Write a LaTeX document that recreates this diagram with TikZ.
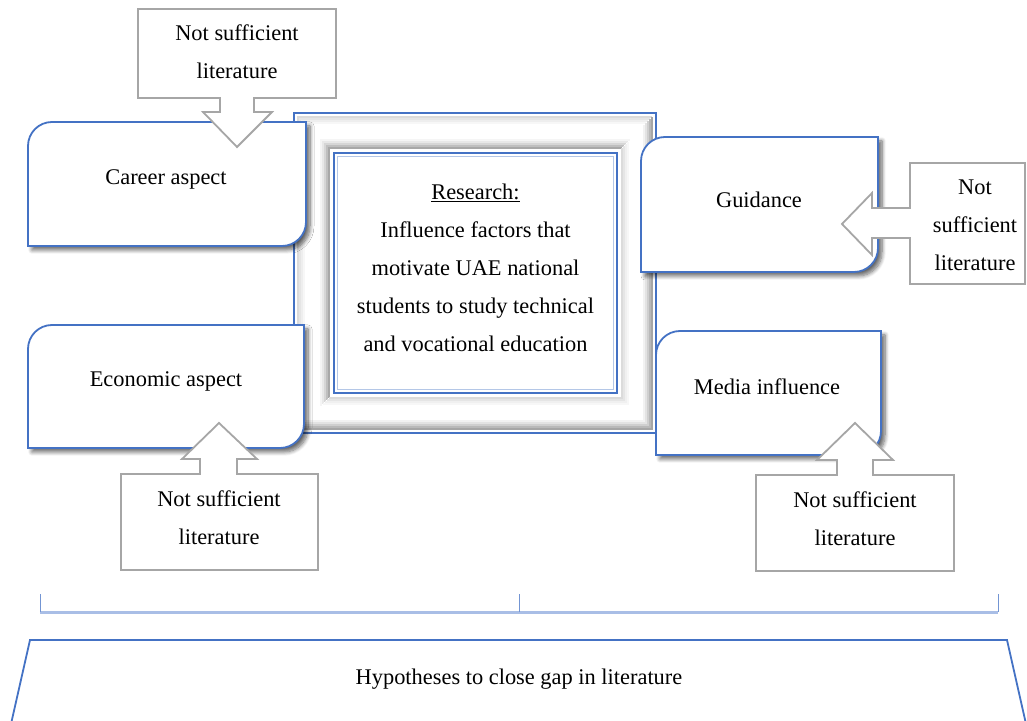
\documentclass[tikz,border=0pt]{standalone}
\usepackage{fontspec}
\setmainfont{Liberation Serif}
\usetikzlibrary{shadows,shadows.blur,calc}
\definecolor{obl}{HTML}{4472C4}
\definecolor{cgray}{HTML}{A6A6A6}
\definecolor{brk}{HTML}{A9BEE6}
\tikzset{
  bluebox/.style={draw=obl, line width=1.8pt, fill=white,
    blur shadow={shadow xshift=4pt, shadow yshift=-4pt, shadow blur radius=4pt, shadow blur steps=8, shadow opacity=60}},
  callout/.style={draw=cgray, line width=1.8pt, fill=white, line join=miter},
  txt/.style={font=\fontsize{22.4}{38}\selectfont, align=center, inner sep=0pt},
}
\begin{document}
\begin{tikzpicture}[x=1pt,y=1pt]
\useasboundingbox (0,0) rectangle (1027,720);

% ---- central frame ----
\draw[obl, line width=1.8pt, fill=white] (294,287) rectangle (656,607);
% outer raised bevel
\foreach \d/\c in {4/28,6/20,8/13,10/6}
  \draw[gray!\c, line width=2.2pt] (294+\d,287+\d) -- (294+\d,607-\d) -- (656-\d,607-\d);
\foreach \d/\c in {4/70,6/55,8/38,10/22,12/10}
  \draw[gray!\c, line width=2.2pt] (294+\d,287+\d) -- (656-\d,287+\d) -- (656-\d,607-\d);
% inner sunken bevel
\foreach \d/\c in {13/8,11/18,9/32,7/50,5/68}
  \draw[gray!\c, line width=2.2pt] (334-\d,327-\d) -- (334-\d,567+\d) -- (617+\d,567+\d);
\foreach \d/\c in {11/6,9/12,7/20,5/28}
  \draw[gray!\c, line width=2.2pt] (334-\d,327-\d) -- (617+\d,327-\d) -- (617+\d,567+\d);
\draw[obl, line width=1.8pt, fill=white] (334,327) rectangle (617,567);
\draw[obl!40, line width=0.8pt] (337.5,330.5) rectangle (613.5,563.5);
\node[txt] (research) at (475.5,452) {\underline{Research:}\\Influence factors that\\motivate UAE national\\students to study technical\\and vocational education};

% ---- blue boxes ----
\draw[bluebox] (28,474) -- (28,574) arc[start angle=180,end angle=90,radius=24] -- (306,598) -- (306,498) arc[start angle=0,end angle=-90,radius=24] -- cycle;
\node[txt] (career) at (166,541) {Career aspect};

\draw[bluebox] (641,448) -- (641,559) arc[start angle=180,end angle=90,radius=24] -- (878,583) -- (878,472) arc[start angle=0,end angle=-90,radius=24] -- cycle;
\node[txt] (guidance) at (759,520) {Guidance};

\draw[bluebox] (28,272) -- (28,371) arc[start angle=180,end angle=90,radius=24] -- (304,395) -- (304,296) arc[start angle=0,end angle=-90,radius=24] -- cycle;
\node[txt] (economic) at (166,339) {Economic aspect};

\draw[bluebox] (656,265) -- (656,365) arc[start angle=180,end angle=90,radius=24] -- (881,389) -- (881,289) arc[start angle=0,end angle=-90,radius=24] -- cycle;
\node[txt] (media) at (767,333) {Media influence};

% ---- callouts ----
\draw[callout] (138,711) -- (336,711) -- (336,622) -- (254,622) -- (254,608) -- (272,608) -- (237,573) -- (203,608) -- (220,608) -- (220,622) -- (138,622) -- cycle;
\node[txt] (c1) at (237,668) {Not sufficient\\literature};

\draw[callout] (910,557) -- (1025,557) -- (1025,436) -- (910,436) -- (910,482) -- (872,482) -- (872,465) -- (842,496) -- (872,527) -- (872,512) -- (910,512) -- cycle;
\node[txt] (c2) at (975,495) {Not\\sufficient\\literature};

\draw[callout] (121,246) -- (200,246) -- (200,261) -- (182,261) -- (219,297) -- (257,261) -- (237,261) -- (237,246) -- (318,246) -- (318,150) -- (121,150) -- cycle;
\node[txt] (c3) at (219,202) {Not sufficient\\literature};

\draw[callout] (756,245) -- (837,245) -- (837,260) -- (817,260) -- (855,297) -- (893,260) -- (873,260) -- (873,245) -- (954,245) -- (954,149) -- (756,149) -- cycle;
\node[txt] (c4) at (855,201) {Not sufficient\\literature};

% ---- bracket ----
\draw[brk, line width=3pt] (40,108) -- (998,108);
\draw[obl!75, line width=0.8pt] (40,108) -- (40,126);
\draw[obl!75, line width=0.8pt] (519,108) -- (519,126);
\draw[obl!75, line width=0.8pt] (998,108) -- (998,126);

% ---- trapezoid ----
\draw[obl, line width=1.8pt, line join=miter] (11,-4) -- (30,80) -- (1007,80) -- (1026,-4);
\node[txt] (hyp) at (519,41) {Hypotheses to close gap in literature};
\end{tikzpicture}
\end{document}
